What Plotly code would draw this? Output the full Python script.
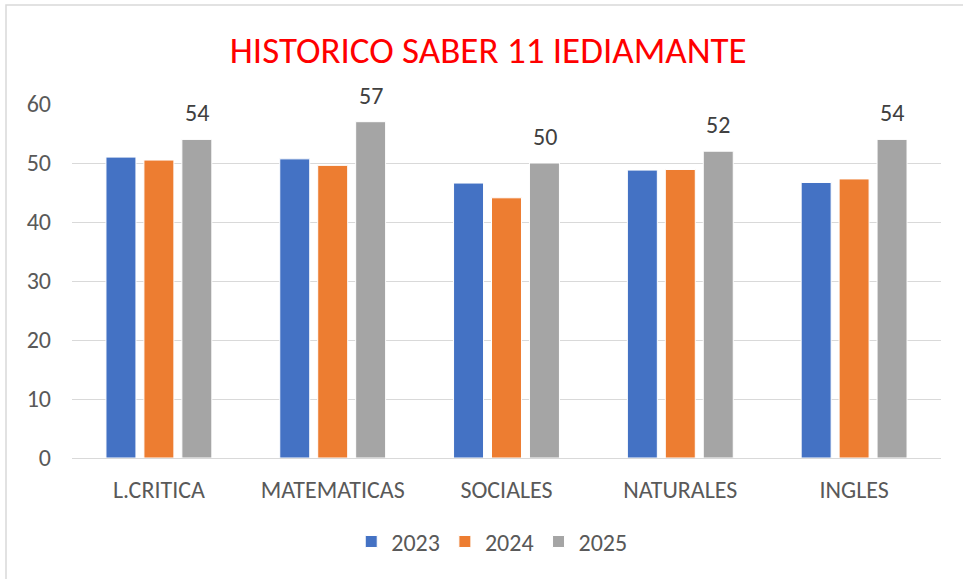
import plotly.graph_objects as go

categories = ["L.CRITICA", "MATEMATICAS", "SOCIALES", "NATURALES", "INGLES"]
years = ["2023", "2024", "2025"]
v2023 = [51.0, 50.7, 46.6, 48.8, 46.7]
v2024 = [50.5, 49.6, 44.1, 48.9, 47.3]
v2025 = [54, 57, 50, 52, 54]
colors = ["#4472C4", "#ED7D31", "#A5A5A5"]
yticks = [0, 10, 20, 30, 40, 50, 60]

FONT = "Carlito, 'Liberation Sans Narrow', 'Open Sans', sans-serif"

fig = go.Figure()
for name, vals, col in zip(years, [v2023, v2024, v2025], colors):
    fig.add_trace(go.Bar(
        x=categories, y=vals, name=name,
        marker=dict(color=col, line=dict(color="white", width=1)),
        hoverinfo="x+y+name",
    ))

# data labels for the 2025 series
for cat, v in zip(categories, v2025):
    fig.add_annotation(x=cat, y=v, text=str(v), showarrow=False,
                       xshift=38, yshift=10, yanchor="bottom",
                       font=dict(size=24, color="#404040", family=FONT))

fig.update_layout(
    width=963, height=579,
    margin=dict(l=72, r=22, t=104, b=121),
    paper_bgcolor="white", plot_bgcolor="white",
    barmode="group", bargap=0.345, bargroupgap=0.21,
    title=dict(text="HISTORICO SABER 11 IEDIAMANTE", x=0.507, xanchor="center",
               y=0.913, yanchor="middle",
               font=dict(size=37, color="#FF0000", family=FONT)),
    font=dict(family=FONT, color="#595959"),
    xaxis=dict(showgrid=False, showline=True, linecolor="#d9d9d9", linewidth=1,
               tickfont=dict(size=24, color="#595959"), ticks="", ticklabelstandoff=10),
    yaxis=dict(range=[0, 60], tickvals=yticks, showgrid=True, gridcolor="#d9d9d9",
               gridwidth=1, zeroline=False, showline=False, ticks="",
               tickfont=dict(size=24, color="#595959"), ticklabelstandoff=20),
    legend=dict(orientation="h", x=0.483, xanchor="center", y=-0.237, yanchor="middle",
                font=dict(size=24, color="#595959"), itemwidth=30,
                traceorder="normal"),
    showlegend=True,
)
fig.add_shape(type="rect", xref="paper", yref="paper",
              x0=(6 - 72) / 869, x1=(975 - 72) / 869,
              y0=(458 - 595) / 354, y1=(458 - 5) / 354,
              line=dict(color="#d9d9d9", width=1.5), layer="below")

fig.write_html("out.html", config={"displayModeBar": False},
               post_script="document.body.style.margin='0';")
